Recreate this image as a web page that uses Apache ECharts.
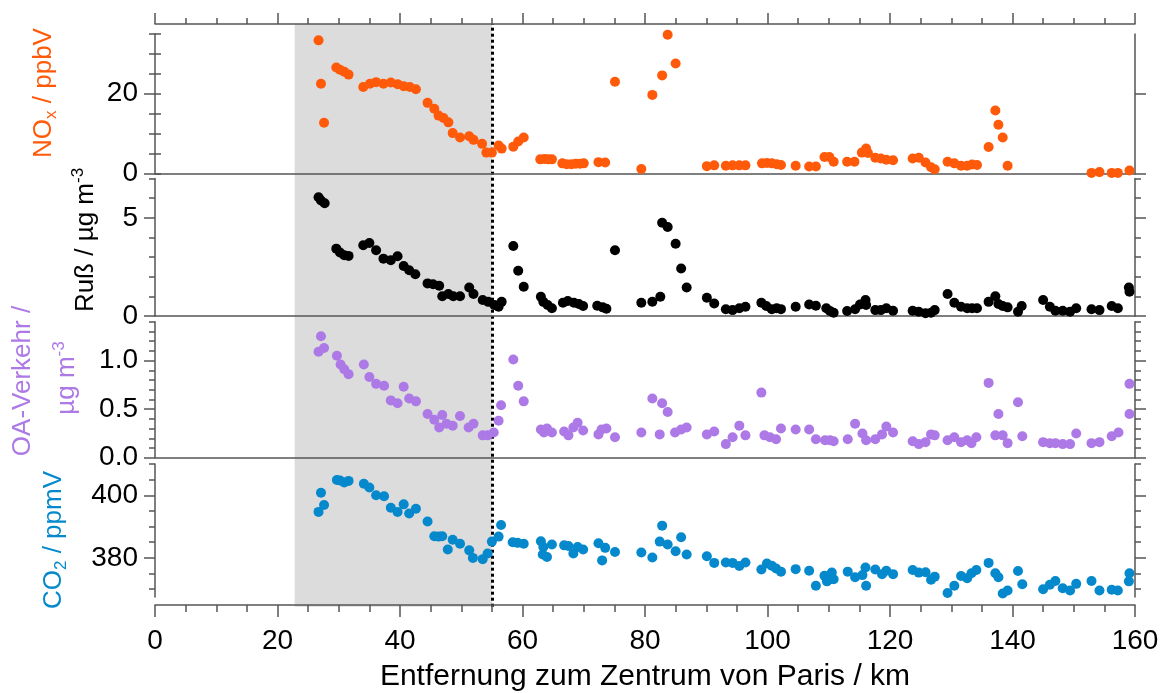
<!DOCTYPE html>
<html>
<head>
<meta charset="utf-8">
<script src="https://cdn.jsdelivr.net/npm/echarts@6/dist/echarts.min.js"></script>
<style>
html, body { margin: 0; padding: 0; background: #fff; }
#chart { width: 1166px; height: 693px; }
</style>
</head>
<body>
<div id="chart"></div>
<script>
// Distance from the centre of Paris (km) and measured values along the transect
const noxKm = [26.7,27.1,27.6,29.6,30.2,30.9,31.6,34.0,35.1,36.1,37.3,38.5,39.6,40.6,41.6,42.6,44.5,45.6,46.3,47.1,47.9,48.6,49.8,51.3,52.0,53.4,54.1,55.0,56.1,56.6,58.5,59.3,60.2,62.9,63.6,64.2,64.8,66.5,67.2,68.0,68.7,69.4,70.0,72.4,73.5,75.1,79.4,81.2,82.8,83.7,85.0,90.1,91.3,93.2,94.3,95.4,96.4,99.1,99.9,100.7,101.5,102.2,104.6,106.8,107.9,109.3,110.1,110.8,113.0,114.2,115.4,116.1,116.4,117.6,118.5,119.4,120.5,123.7,124.7,125.8,126.7,127.3,129.4,130.5,131.6,132.6,133.4,134.2,136.1,137.2,137.7,138.4,139.2,152.9,154.2,156.2,157.2,159.1];
const noxVal = [33.4,22.5,12.7,26.6,26.0,25.5,24.8,21.7,22.5,22.9,22.5,22.8,22.4,21.9,21.7,21.1,17.7,16.2,14.5,13.9,12.8,10.1,9.0,9.3,8.4,7.4,5.2,5.2,7.0,6.2,6.7,8.0,9.0,3.5,3.6,3.5,3.5,2.5,2.3,2.3,2.4,2.4,2.5,2.8,2.7,23.0,1.1,19.7,24.6,34.8,27.6,1.8,2.0,1.9,2.0,2.0,2.0,2.5,2.6,2.5,2.3,2.1,1.9,1.7,1.7,4.1,4.1,2.9,2.9,2.9,5.2,6.2,5.1,3.9,3.7,3.4,3.3,3.7,3.9,2.7,1.5,1.0,2.9,2.5,1.9,1.9,2.2,2.1,6.6,15.8,12.2,9.0,1.9,0.1,0.3,0.1,0.1,0.7];

const russKm = [26.7,27.1,27.7,29.6,30.2,30.9,31.6,34.0,35.0,36.1,37.3,38.5,39.6,40.6,41.5,42.5,44.5,45.4,46.4,46.9,47.9,48.7,49.8,51.3,52.0,53.5,54.4,55.4,56.1,56.6,58.5,59.3,60.2,63.0,63.4,64.1,64.8,66.6,67.4,68.4,69.2,69.9,72.2,73.1,73.7,75.1,79.4,81.2,82.5,82.8,83.7,85.0,85.9,86.8,90.1,91.3,93.2,94.3,95.4,96.4,99.0,99.8,100.7,101.5,102.2,104.6,106.8,107.9,109.6,110.2,110.8,113.0,114.3,115.1,116.0,116.1,117.6,118.5,119.4,120.5,123.7,124.7,125.8,126.7,127.3,129.4,130.5,131.6,132.6,133.4,134.2,136.1,137.2,137.7,138.4,139.2,140.9,141.5,145.0,146.1,147.0,148.2,149.4,150.4,152.9,154.2,156.2,157.2,159.0,159.1];
const russVal = [6.05,5.88,5.74,3.43,3.23,3.09,3.06,3.60,3.72,3.35,2.92,2.84,3.04,2.55,2.33,2.13,1.66,1.62,1.54,1.01,1.12,1.01,1.01,1.45,1.12,0.81,0.72,0.56,0.47,0.72,3.56,2.30,1.49,0.98,0.72,0.56,0.39,0.67,0.76,0.67,0.61,0.51,0.52,0.44,0.37,3.35,0.67,0.73,0.98,4.75,4.53,3.68,2.42,1.45,0.93,0.64,0.34,0.30,0.39,0.47,0.67,0.51,0.34,0.39,0.35,0.47,0.59,0.52,0.39,0.25,0.17,0.25,0.34,0.59,0.81,0.56,0.30,0.30,0.39,0.27,0.27,0.22,0.14,0.17,0.30,1.12,0.67,0.47,0.39,0.39,0.39,0.72,1.01,0.61,0.51,0.44,0.22,0.51,0.81,0.47,0.27,0.27,0.22,0.39,0.34,0.30,0.51,0.39,1.45,1.23];

const oaKm = [26.7,27.1,27.6,29.7,30.3,30.9,31.6,34.1,35.0,36.1,37.4,38.5,39.6,40.6,41.5,42.6,44.5,45.6,46.4,46.9,47.6,48.6,49.8,51.2,52.0,53.5,54.3,55.3,56.1,56.5,58.5,59.3,60.2,63.0,63.5,64.0,64.8,66.8,67.5,68.3,69.0,69.9,72.4,72.9,73.7,75.1,79.4,81.2,82.4,82.8,83.7,84.9,85.9,86.8,90.1,91.3,93.2,94.3,95.4,96.4,99.0,99.5,100.4,101.4,102.2,104.6,106.8,107.9,109.4,110.2,110.8,113.1,114.3,115.5,116.1,117.6,118.7,119.4,120.5,123.7,124.7,125.8,126.7,127.3,129.4,130.5,131.6,132.6,133.3,134.1,136.1,137.2,137.7,138.4,139.2,140.9,141.6,145.0,146.1,147.0,148.2,149.4,150.4,152.9,154.2,156.2,157.3,159.1,159.1];
const oaVal = [1.09,1.25,1.13,1.05,0.96,0.91,0.86,0.96,0.83,0.76,0.74,0.59,0.56,0.73,0.61,0.58,0.45,0.39,0.31,0.44,0.35,0.33,0.43,0.31,0.35,0.23,0.23,0.26,0.38,0.54,1.01,0.74,0.58,0.29,0.26,0.30,0.26,0.27,0.23,0.31,0.36,0.28,0.24,0.29,0.30,0.21,0.26,0.61,0.24,0.56,0.47,0.26,0.29,0.31,0.24,0.27,0.14,0.21,0.33,0.23,0.67,0.23,0.21,0.19,0.30,0.29,0.29,0.19,0.18,0.18,0.17,0.19,0.35,0.25,0.18,0.19,0.24,0.32,0.26,0.17,0.14,0.16,0.24,0.23,0.18,0.21,0.16,0.18,0.15,0.21,0.77,0.23,0.45,0.23,0.15,0.57,0.22,0.16,0.15,0.15,0.14,0.14,0.25,0.15,0.16,0.22,0.26,0.45,0.76];

const co2Km = [26.7,27.1,27.6,29.7,30.2,30.9,31.6,34.1,35.0,36.1,37.4,38.5,39.6,40.6,41.5,42.6,44.5,45.6,46.3,46.9,47.8,48.6,49.8,51.3,51.9,53.5,54.3,55.0,56.1,56.5,58.4,59.2,60.2,63.0,63.3,63.4,64.0,64.8,66.8,67.5,68.3,69.0,69.9,72.4,73.0,73.5,75.1,79.4,81.2,82.4,82.8,83.7,85.0,85.9,86.8,90.1,91.3,93.2,94.3,95.4,96.4,99.0,99.9,100.7,101.4,102.2,104.6,106.8,107.9,109.3,109.7,110.0,110.5,110.8,113.1,114.3,115.5,116.0,116.1,117.6,118.7,119.4,120.5,123.7,124.7,125.8,126.7,127.3,129.4,130.5,131.6,132.6,133.3,134.1,136.1,137.2,137.7,138.4,139.2,140.9,141.6,145.0,146.1,147.0,148.2,149.4,150.4,152.9,154.2,156.2,157.2,159.0,159.1];
const co2Val = [394.7,400.8,396.9,404.9,404.7,404.1,404.6,403.7,402.5,400.0,399.7,396.0,394.7,397.1,394.2,395.7,391.6,386.9,386.8,386.9,382.7,385.8,384.5,382.4,380.0,379.6,381.4,385.2,386.8,390.5,385.0,384.8,384.5,385.3,381.1,383.5,380.3,384.3,384.0,383.8,381.4,383.5,382.7,384.7,379.2,383.2,381.9,381.7,380.1,385.2,390.3,384.3,382.1,386.6,381.1,380.5,378.4,378.5,378.4,377.4,378.5,376.3,378.2,377.5,376.6,375.6,376.4,375.9,371.1,374.3,372.5,373.0,375.3,373.2,375.6,373.8,374.5,376.9,371.1,376.3,374.8,375.9,374.8,376.1,375.3,375.4,373.0,374.0,368.8,371.1,374.2,373.5,375.1,376.1,378.4,375.1,373.8,368.6,369.6,375.8,371.6,370.0,371.4,372.6,370.3,369.6,371.7,372.6,369.6,369.8,369.6,372.5,375.1];

// Axis ticks
const noxMajor = [0, 20];
const noxMinor = [0, 5, 10, 15, 20, 25, 30, 35];
const russMajor = [0, 5];
const russMinor = [0, 1, 2, 3, 4, 5, 6, 7];
const oaMajor = [0, 0.5, 1.0];
const oaMinor = [0, 0.1, 0.2, 0.3, 0.4, 0.5, 0.6, 0.7, 0.8, 0.9, 1.0, 1.1, 1.2, 1.3, 1.4];
const co2Major = [380, 400];
const co2Minor = [370, 375, 380, 385, 390, 395, 400, 405, 410];

// Highlighted stretch near Paris and the marker distance
const shadeFrom = 22.8;
const shadeTo = 55;
const markerKm = 55;

const FONT = '"Liberation Sans", Arial, sans-serif';
const AX = '#555555';
const C_NOX = '#ff5a0a';
const C_RUSS = '#000000';
const C_OA = '#ad79e6';
const C_CO2 = '#0589cc';

const pairs = (xs, ys) => xs.map((x, i) => [x, ys[i]]);

function yAxesFor(gridIndex, min, max, major, minor, fmt) {
  const base = { gridIndex, type: 'value', min, max, z: 5, splitLine: { show: false } };
  const tickStyle = { color: AX, width: 1.5 };
  return [
    Object.assign({}, base, {
      position: 'left',
      axisLine: { show: true, onZero: false, lineStyle: { color: AX, width: 1.5 } },
      axisTick: { show: true, customValues: major, length: 11, lineStyle: tickStyle },
      axisLabel: { show: true, customValues: major, formatter: fmt, margin: 17,
                   fontSize: 28, color: '#000', fontFamily: FONT }
    }),
    Object.assign({}, base, {
      position: 'left',
      axisLine: { show: false },
      axisTick: { show: true, customValues: minor, length: 6, lineStyle: tickStyle },
      axisLabel: { show: false }
    }),
    Object.assign({}, base, {
      position: 'right',
      axisLine: { show: true, onZero: false, lineStyle: { color: AX, width: 1.5 } },
      axisTick: { show: true, customValues: major, length: 11, lineStyle: tickStyle },
      axisLabel: { show: false }
    }),
    Object.assign({}, base, {
      position: 'right',
      axisLine: { show: false },
      axisTick: { show: true, customValues: minor, length: 6, lineStyle: tickStyle },
      axisLabel: { show: false }
    })
  ];
}

const xBase = { type: 'value', min: 0, max: 160, interval: 20, z: 5, splitLine: { show: false } };
const divider = (gridIndex) => Object.assign({}, xBase, {
  gridIndex, position: 'bottom',
  axisLine: { show: true, onZero: false, lineStyle: { color: AX, width: 1.5 } },
  axisTick: { show: false }, axisLabel: { show: false }
});

const xAxes = [
  divider(0),
  Object.assign({}, xBase, {
    gridIndex: 0, position: 'top', offset: 10,
    axisLine: { show: true, onZero: false, lineStyle: { color: AX, width: 1.5 } },
    axisTick: { show: true, length: 11, lineStyle: { color: AX, width: 1.5 } },
    minorTick: { show: true, splitNumber: 4, length: 6, lineStyle: { color: AX, width: 1.5 } },
    axisLabel: { show: false }
  }),
  divider(1),
  divider(2),
  Object.assign({}, xBase, {
    gridIndex: 3, position: 'bottom', offset: 8,
    axisLine: { show: true, onZero: false, lineStyle: { color: AX, width: 1.5 } },
    axisTick: { show: true, length: 12, lineStyle: { color: AX, width: 1.5 } },
    minorTick: { show: true, splitNumber: 4, length: 7, lineStyle: { color: AX, width: 1.5 } },
    axisLabel: { show: true, margin: 22, fontSize: 28, color: '#000', fontFamily: FONT },
    name: 'Entfernung zum Zentrum von Paris / km',
    nameLocation: 'middle', nameGap: 57,
    nameTextStyle: { fontSize: 30, color: '#000', fontFamily: FONT }
  }),
  Object.assign({}, xBase, {
    gridIndex: 4, show: false
  })
];

const yAxes = [].concat(
  yAxesFor(0, 0, 35, noxMajor, noxMinor, v => String(v)),
  yAxesFor(1, 0, 7, russMajor, russMinor, v => String(v)),
  yAxesFor(2, 0, 1.4, oaMajor, oaMinor, v => v.toFixed(1)),
  yAxesFor(3, 367.5, 410, co2Major, co2Minor, v => String(v)),
  [{ gridIndex: 4, type: 'value', min: 0, max: 1, show: false }]
);

const dots = (xi, yi, data, color) => ({
  type: 'scatter', xAxisIndex: xi, yAxisIndex: yi, data, z: 6,
  symbol: 'circle', symbolSize: 10, silent: true,
  itemStyle: { color, opacity: 1 }
});

const chart = echarts.init(document.getElementById('chart'), null, { renderer: 'canvas' });

const rotated = (x, y, text, rich) => ({
  type: 'text', x, y, rotation: Math.PI / 2, z: 20, silent: true,
  style: { text, rich, align: 'center', verticalAlign: 'middle', font: '26px ' + FONT }
});

function richSet(color) {
  return {
    m: { fontSize: 26, lineHeight: 32, fill: color, fontFamily: FONT },
    s: { fontSize: 17, lineHeight: 16, verticalAlign: 'bottom', fill: color, fontFamily: FONT },
    p: { fontSize: 17, lineHeight: 16, verticalAlign: 'top', fill: color, fontFamily: FONT }
  };
}

chart.setOption({
  animation: false,
  backgroundColor: '#ffffff',
  grid: [
    { left: 155, right: 31, top: 34, height: 139.3 },
    { left: 155, right: 31, top: 178.5, height: 137.5 },
    { left: 155, right: 31, top: 321.7, height: 136 },
    { left: 155, right: 31, top: 464, height: 135 },
    { left: 155, right: 31, top: 24, height: 582.7 }
  ],
  xAxis: xAxes,
  yAxis: yAxes,
  series: [
    {
      type: 'scatter', xAxisIndex: 5, yAxisIndex: 16, z: 1, silent: true,
      data: [[markerKm, 0.5]], symbolSize: 0,
      markArea: {
        silent: true,
        itemStyle: { color: '#dcdcdc' },
        data: [[{ xAxis: shadeFrom }, { xAxis: shadeTo }]]
      }
    },
    dots(0, 0, pairs(noxKm, noxVal), C_NOX),
    dots(2, 4, pairs(russKm, russVal), C_RUSS),
    dots(3, 8, pairs(oaKm, oaVal), C_OA),
    dots(4, 12, pairs(co2Km, co2Val), C_CO2),
    {
      type: 'scatter', xAxisIndex: 5, yAxisIndex: 16, z: 10, silent: true,
      data: [[markerKm, 0.5]], symbolSize: 0,
      markLine: {
        silent: true, symbol: ['none', 'none'], label: { show: false },
        lineStyle: { color: '#000', width: 3, type: [3, 3] },
        data: [{ xAxis: markerKm }]
      }
    }
  ],
  graphic: [
    rotated(44, 93, '{m|NO}{s|x}{m| / ppbV}', richSet(C_NOX)),
    rotated(86, 240, '{m|Ruß / µg m}{p|-3}', richSet(C_RUSS)),
    rotated(23, 381, '{m|OA-Verkehr /}', richSet(C_OA)),
    rotated(67, 378, '{m|µg m}{p|-3}', richSet(C_OA)),
    rotated(54, 540, '{m|CO}{s|2}{m| / ppmV}', richSet(C_CO2))
  ]
});
</script>
</body>
</html>
